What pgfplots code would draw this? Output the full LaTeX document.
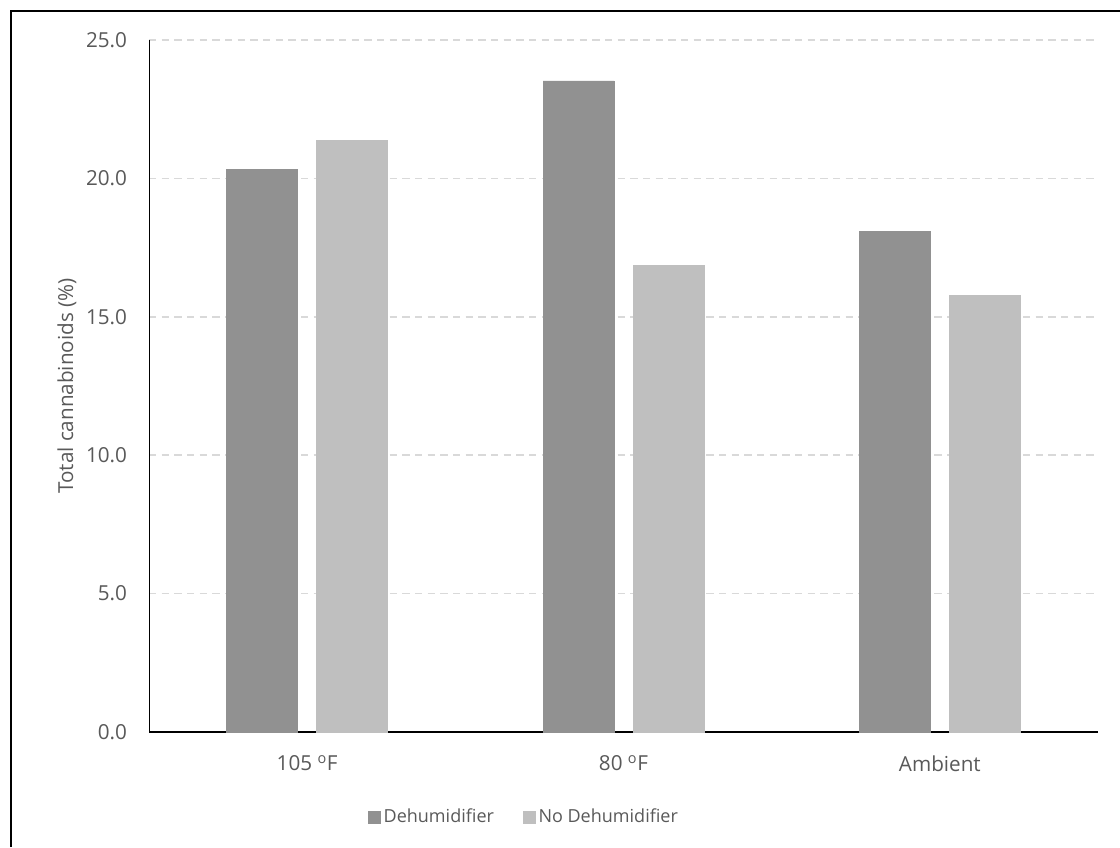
\documentclass[border=0pt]{standalone}
\usepackage{pgfplots}
\pgfplotsset{compat=1.18}
\usepackage{fontspec}
\setmainfont{Open Sans}
\definecolor{txt}{HTML}{595959}
\definecolor{dark}{HTML}{919191}
\definecolor{light}{HTML}{BFBFBF}
\definecolor{gridc}{HTML}{D9D9D9}

\begin{document}
\begin{tikzpicture}
\useasboundingbox (0,0) rectangle (840pt,635.25pt);
\draw[black, line width=1.1pt] (8.25pt,0) -- (8.25pt,627pt) -- (840pt,627pt);

\begin{axis}[
  at={(111.75pt,86.25pt)}, anchor=south west,
  scale only axis,
  width=711.75pt, height=519pt,
  xmin=-0.5, xmax=2.5,
  ymin=0, ymax=25,
  axis x line*=bottom,
  axis y line*=left,
  x axis line style={black, line width=1.1pt, -},
  y axis line style={black, line width=0.75pt, -},
  xtick={0,1,2},
  xticklabels={105 \textsuperscript{o}F, 80 \textsuperscript{o}F, Ambient},
  ytick={0,5,10,15,20,25},
  major tick length=0pt,
  ymajorgrids=true,
  grid style={gridc, line width=1.3pt, dash pattern=on 5.5pt off 4pt},
  tick label style={font=\fontsize{15.5}{18}\selectfont, text=txt},
  y tick label style={/pgf/number format/fixed, /pgf/number format/fixed zerofill,
    /pgf/number format/precision=1, /pgf/number format/assume math mode=true,
    xshift=-13pt},
  x tick label style={yshift=-14pt},
  ylabel={Total cannabinoids (\%)},
  ylabel style={at={(axis description cs:-0.0864,0.5)}, anchor=center, font=\fontsize{15.5}{18}\selectfont, text=txt},
  ybar, bar width=53.25pt,
  legend columns=-1,
  legend style={at={(0.3957,-0.1228)}, anchor=center, draw=none, fill=none,
    font=\fontsize{13.5}{16}\selectfont, text=txt,
    /tikz/every even column/.append style={column sep=20pt}},
  legend image code/.code={\fill[#1] (0pt,-4.5pt) rectangle (9pt,4.5pt);},
]
\addplot[fill=dark, draw=dark, bar shift=-33.75pt] coordinates {(0,20.33) (1,23.52) (2,18.09)};
\addplot[fill=light, draw=light, bar shift=33.75pt] coordinates {(0,21.38) (1,16.87) (2,15.76)};
\legend{Dehumidifier, No Dehumidifier}
\end{axis}
\end{tikzpicture}
\end{document}
